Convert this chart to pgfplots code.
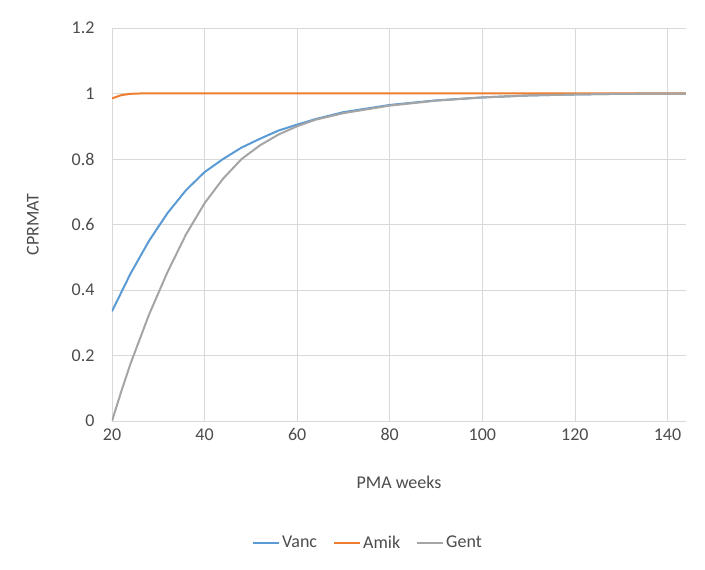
\documentclass[border=0pt]{standalone}
\usepackage{pgfplots}
\pgfplotsset{compat=1.18}
\usepackage{fontspec}
\setmainfont{Carlito}
\definecolor{vanc}{HTML}{5B9BD5}
\definecolor{amik}{HTML}{ED7D31}
\definecolor{gent}{HTML}{A5A5A5}
\begin{document}
\begin{tikzpicture}
\begin{axis}[
  scale only axis, width=574pt, height=393pt,
  xmin=20, xmax=144, ymin=0, ymax=1.2,
  xtick={20,40,...,140}, ytick={0,0.2,...,1.2},
  yticklabels={0,0.2,0.4,0.6,0.8,1,1.2},
  grid=major, grid style={draw=black!15, line width=0.8pt},
  axis line style={draw=none}, tick style={draw=none},
  /pgf/number format/assume math mode=true,
  ticklabel style={font=\fontsize{18}{21}\selectfont, text=black!70},
  label style={font=\fontsize{18}{21}\selectfont, text=black!70},
  xticklabel style={yshift=-4pt}, yticklabel style={xshift=-14pt},
  xlabel={PMA weeks}, ylabel={CPRMAT},
  xlabel style={yshift=-28pt}, ylabel style={yshift=26pt},
  legend columns=3,
  legend style={draw=none, at={(0.446,-0.31)}, anchor=center, font=\fontsize{18}{21}\selectfont, text=black!70, /tikz/every even column/.append style={column sep=14pt}},
  legend image code/.code={\draw[#1, line width=2pt] (0pt,0pt) -- (26pt,0pt);},
  every axis plot/.append style={line width=2pt, no marks}
]
\draw[black!25, line width=0.8pt] (axis cs:20,0) -- (axis cs:144,0);
\addplot[vanc] coordinates {(20,0.335)(24,0.45)(28,0.55)(32,0.635)(36,0.705)(40,0.76)(44,0.80)(48,0.835)(52,0.862)(56,0.887)(60,0.905)(64,0.922)(70,0.943)(80,0.965)(90,0.979)(100,0.988)(110,0.994)(120,0.997)(130,0.999)(144,1.0)};
\addlegendentry{Vanc}
\addplot[amik] coordinates {(20,0.985)(22,0.995)(24,0.999)(26,1.0)(60,1.0)(100,1.0)(144,1.0)};
\addlegendentry{Amik}
\addplot[gent] coordinates {(20,0.0)(22,0.09)(24,0.175)(28,0.325)(32,0.455)(36,0.57)(40,0.665)(44,0.74)(48,0.80)(52,0.842)(56,0.875)(60,0.90)(64,0.92)(70,0.94)(80,0.963)(90,0.978)(100,0.988)(110,0.994)(120,0.997)(130,0.999)(144,1.0)};
\addlegendentry{Gent}
\end{axis}
\path (current axis.south west) ++(-112pt,-149pt) rectangle ++(705pt,570pt);
\end{tikzpicture}
\end{document}
